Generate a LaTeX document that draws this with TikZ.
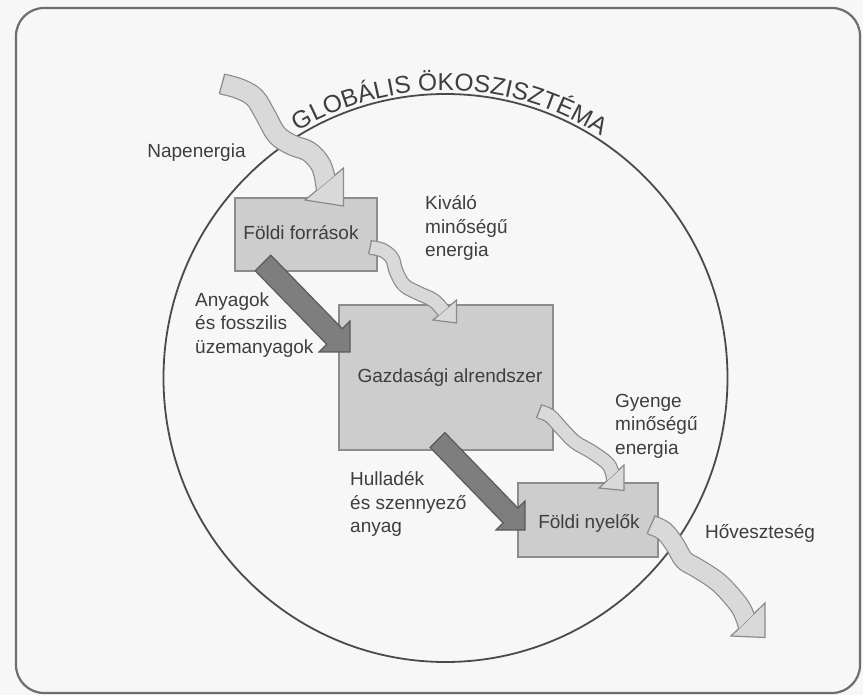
\documentclass[tikz,border=0pt]{standalone}
\usepackage{fontspec}
\setmainfont{Liberation Sans}
\usetikzlibrary{calc,decorations.text}
\definecolor{bg}{HTML}{F7F7F7}
\definecolor{framec}{HTML}{6E6E6E}
\definecolor{circc}{HTML}{4A4A4A}
\definecolor{txt}{HTML}{3E3E3E}
\definecolor{boxc}{HTML}{CDCDCD}
\definecolor{boxe}{HTML}{8C8C8C}
\definecolor{wavc}{HTML}{D9D9D9}
\definecolor{wave}{HTML}{8A8A8A}
\definecolor{darkc}{HTML}{7E7E7E}
\definecolor{darke}{HTML}{5A5A5A}
\begin{document}
\begin{tikzpicture}[x=1pt,y=-1pt,
  lbl/.style={font=\fontsize{19}{23.5}\selectfont, text=txt, inner sep=0pt},
  box/.style={draw=boxe, fill=boxc, line width=1.2pt, inner sep=0pt},
  wshaft/.style={draw=wave, line width=1.2pt, double=wavc, line cap=butt, line join=round},
  whead/.style={draw=wave, fill=wavc, line width=1.2pt, line join=miter},
  wcap/.style={draw=wave, line width=1.2pt},
  darr/.style={draw=darke, fill=darkc, line width=1.2pt, line join=miter}]

\fill[bg] (0,0) rectangle (863,695);
\useasboundingbox (0,0) rectangle (863,695);
\draw[framec, line width=2.2pt, rounded corners=28pt] (16,8) rectangle (860,693);

% global ecosystem
\coordinate (O) at (445.5,378);
\draw[circc, line width=1.8pt] (O) ellipse[x radius=282, y radius=284];
\path[decorate, decoration={text along path, text align=center,
   text={|\fontsize{24.5}{24.5}\selectfont\color{txt}|GLOBÁLIS ÖKOSZISZTÉMA}}]
   ($(O)+(-149:287.5)$) arc[start angle=-149, end angle=-29, radius=287.5];

% boxes
\node[box, minimum width=142pt, minimum height=73pt] (forr) at (306,234.5) {};
\node[box, minimum width=214pt, minimum height=145pt] (gazd) at (446,377.5) {};
\node[box, minimum width=140pt, minimum height=74pt] (nyel) at (588,520) {};

% Arrow A : Napenergia
\coordinate (a1) at (305,200); \coordinate (a2) at (343.5,206); \coordinate (a3) at (343.5,168);
\draw[whead] (a1) -- (a2) -- (a3) -- cycle;
\begin{scope}[even odd rule]
  \clip (0,0) -- (863,0) -- (863,695) -- (0,695) -- cycle (a1) -- (a2) -- (a3) -- cycle;
  \draw[wshaft, double distance=19pt] plot[smooth, tension=0.6] coordinates
   {(222,84) (240,89) (255,98) (266,116) (277,135) (292,145) (308,151) (319,162) (324,174) (327,193)};
\end{scope}
\draw[wcap] ($(222,84)!10.1pt!90:(240,89)$) -- ($(222,84)!10.1pt!-90:(240,89)$);

% Arrow B : Kivalo minosegu energia
\coordinate (b1) at (433,320); \coordinate (b2) at (456.5,323); \coordinate (b3) at (456.5,300);
\draw[whead] (b1) -- (b2) -- (b3) -- cycle;
\begin{scope}[even odd rule]
  \clip (0,0) -- (863,0) -- (863,695) -- (0,695) -- cycle (b1) -- (b2) -- (b3) -- cycle;
  \draw[wshaft, double distance=12.5pt] plot[smooth, tension=0.6] coordinates
   {(370,247.5) (382,250) (392,258) (396,271) (404,285) (418,293) (433,300) (442,309) (446,315)};
\end{scope}
\draw[wcap] ($(370,247.5)!6.85pt!90:(382,250)$) -- ($(370,247.5)!6.85pt!-90:(382,250)$);

% Arrow C : Gyenge minosegu energia
\coordinate (c1) at (599,488); \coordinate (c2) at (624,490.5); \coordinate (c3) at (624,465);
\draw[whead] (c1) -- (c2) -- (c3) -- cycle;
\begin{scope}[even odd rule]
  \clip (0,0) -- (863,0) -- (863,695) -- (0,695) -- cycle (c1) -- (c2) -- (c3) -- cycle;
  \draw[wshaft, double distance=12.5pt] plot[smooth, tension=0.6] coordinates
   {(539,411.5) (550,416) (563,430) (575,442) (592,452) (607,463) (612,472) (614,483)};
\end{scope}
\draw[wcap] ($(539,411.5)!6.85pt!90:(550,416)$) -- ($(539,411.5)!6.85pt!-90:(550,416)$);

% Arrow D : Hoveszteseg
\coordinate (d1) at (731,636); \coordinate (d2) at (765,637.5); \coordinate (d3) at (765,603);
\draw[whead] (d1) -- (d2) -- (d3) -- cycle;
\begin{scope}[even odd rule]
  \clip (0,0) -- (863,0) -- (863,695) -- (0,695) -- cycle (d1) -- (d2) -- (d3) -- cycle;
  \draw[wshaft, double distance=18pt] plot[smooth, tension=0.6] coordinates
   {(651,525) (664,531) (675,545) (684,560) (697,568) (718,582) (735,600) (743,612) (748,626)};
\end{scope}
\draw[wcap] ($(651,525)!9.6pt!90:(664,531)$) -- ($(651,525)!9.6pt!-90:(664,531)$);

% dark material arrows
\draw[darr] (255.2,270.8) -- (270.8,255.2) -- (342.3,328.7) -- (350,321) -- (350,352) -- (319,352) -- (326.7,344.3) -- cycle;
\draw[darr] (430.1,447.4) -- (444.9,432.6) -- (517.9,508.1) -- (525,501) -- (525,530) -- (496,530) -- (503.1,522.9) -- cycle;

% labels
\node[lbl] (tNap) at (196.5,153) {Napenergia};
\node[lbl] (tForr) at (301,233) {Földi források};
\node[lbl, anchor=west, align=left] (tKiv) at (425,228) {Kiváló\\minőségű\\energia};
\node[lbl, anchor=west, align=left] (tAny) at (195,325) {Anyagok\\és fosszilis\\üzemanyagok};
\node[lbl] (tGazd) at (450,377) {Gazdasági alrendszer};
\node[lbl, anchor=west, align=left] (tGy) at (615,426) {Gyenge\\minőségű\\energia};
\node[lbl, anchor=west, align=left] (tHul) at (350,504) {Hulladék\\és szennyező\\anyag};
\node[lbl] (tNyel) at (589,523) {Földi nyelők};
\node[lbl] (tHo) at (760,533) {Hőveszteség};
\end{tikzpicture}
\end{document}
